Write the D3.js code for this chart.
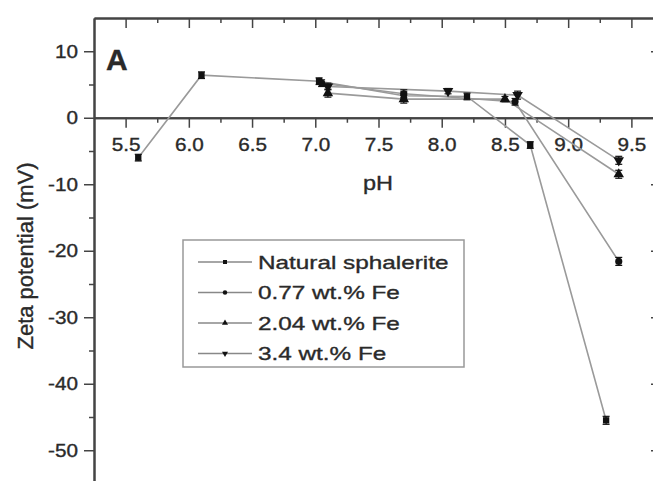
<!DOCTYPE html>
<html>
<head>
<meta charset="utf-8">
<script src="https://cdn.jsdelivr.net/npm/d3@7"></script>
<style>
    body { margin: 0; background: #fff; }
    text { font-family: "Liberation Sans", Arial, sans-serif; fill: #2a2a2a; stroke: #2a2a2a; stroke-width: 0.35px; }
</style>
</head>
<body>
<div id="chart"></div>
<script>

// series names (legend order)
const seriesNames = ["Natural sphalerite", "0.77 wt.% Fe", "2.04 wt.% Fe", "3.4 wt.% Fe"];

// pH / zeta potential (mV) / error
const naturalPH = [5.6, 6.1, 7.03, 7.7, 8.2, 8.7, 9.3];
const naturalZeta = [-6.0, 6.4, 5.5, 3.3, 3.2, -4.1, -45.5];
const naturalErr = [0.5, 0.5, 0.5, 0.6, 0.5, 0.5, 0.6];

const fe077PH = [7.05, 7.7, 8.58, 9.4];
const fe077Zeta = [5.2, 3.6, 2.4, -21.6];
const fe077Err = [0.5, 0.6, 0.5, 0.6];

const fe204PH = [7.1, 7.7, 8.5, 9.4];
const fe204Zeta = [3.7, 2.8, 2.8, -8.5];
const fe204Err = [0.6, 0.6, 0.4, 0.6];

const fe34PH = [7.1, 8.05, 8.6, 9.4];
const fe34Zeta = [4.7, 4.0, 3.4, -6.4];
const fe34Err = [0.5, 0.4, 0.6, 0.6];

// axis extents and ticks
const xDomain = [5.25, 9.75];
const yDomain = [-55, 15];
const xMajorTicks = [5.5, 6.0, 6.5, 7.0, 7.5, 8.0, 8.5, 9.0, 9.5];
const xMinorTicks = [5.75, 6.25, 6.75, 7.25, 7.75, 8.25, 8.75, 9.25];
const yMajorTicks = [-50, -40, -30, -20, -10, 0, 10];
const yMinorTicks = [-45, -35, -25, -15, -5, 5];

class ZetaVis {

    constructor(_parentElement) {
        this.parentElement = _parentElement;
        this.initVis();
    }

    initVis() {
        let vis = this;

        vis.svg = d3.select("#" + vis.parentElement).append("svg")
            .attr("width", 653)
            .attr("height", 481);

        vis.x = d3.scaleLinear().domain(xDomain).range([94, 663]);
        vis.y = d3.scaleLinear().domain(yDomain).range([483.5, 18]);

        // build series table
        vis.series = [
            { name: seriesNames[0], symbol: d3.symbolSquare, rot: 0, ph: naturalPH, zeta: naturalZeta, err: naturalErr },
            { name: seriesNames[1], symbol: d3.symbolCircle, rot: 0, ph: fe077PH, zeta: fe077Zeta, err: fe077Err },
            { name: seriesNames[2], symbol: d3.symbolTriangle, rot: 0, ph: fe204PH, zeta: fe204Zeta, err: fe204Err },
            { name: seriesNames[3], symbol: d3.symbolTriangle, rot: 180, ph: fe34PH, zeta: fe34Zeta, err: fe34Err }
        ];
        vis.series.forEach(s => {
            s.points = s.ph.map((p, i) => ({ ph: p, zeta: s.zeta[i], err: s.err[i] }));
        });

        vis.drawAxes();
        vis.updateVis();
        vis.drawLegend();
    }

    drawAxes() {
        let vis = this;
        let fmtX = d3.format(".1f");

        // minor + major tick groups for each side
        let addAxis = (axisFn, scale, pos, ticks, size, fmt, cls) => {
            let g = vis.svg.append("g")
                .attr("class", cls)
                .attr("transform", pos)
                .call(axisFn(scale).tickValues(ticks).tickSizeInner(size).tickSizeOuter(0)
                    .tickPadding(cls.includes("left") ? 4 : 10)
                    .tickFormat(fmt ? fmt : () => ""));
            g.select(".domain").attr("stroke", "#444").attr("stroke-width", 2);
            g.selectAll(".tick line").attr("stroke", "#444").attr("stroke-width", 1.5);
            g.selectAll("text")
                .attr("fill", "#333")
                .style("font-size", "18px")
                .attr("transform", "scale(1.15,1)");
            return g;
        };

        // zero line (bottom style axis with labels)
        addAxis(d3.axisBottom, vis.x, `translate(0,${vis.y(0)})`, xMinorTicks, 5, null, "x-minor");
        addAxis(d3.axisBottom, vis.x, `translate(0,${vis.y(0)})`, xMajorTicks, 10, fmtX, "x-axis");

        // top frame, ticks inward
        addAxis(d3.axisBottom, vis.x, `translate(0,${vis.y(yDomain[1])})`, xMinorTicks, 5, null, "top-minor");
        addAxis(d3.axisBottom, vis.x, `translate(0,${vis.y(yDomain[1])})`, xMajorTicks, 10, null, "top-axis");

        // left axis, ticks outward
        addAxis(d3.axisLeft, vis.y, `translate(${vis.x(xDomain[0])},0)`, yMinorTicks, 5, null, "left-minor");
        addAxis(d3.axisLeft, vis.y, `translate(${vis.x(xDomain[0])},0)`, yMajorTicks, 10, d => String(d), "left-axis");

        // right axis, ticks inward
        addAxis(d3.axisLeft, vis.y, `translate(${vis.x(xDomain[1])},0)`, yMinorTicks, 5, null, "right-minor");
        addAxis(d3.axisLeft, vis.y, `translate(${vis.x(xDomain[1])},0)`, yMajorTicks, 12, null, "right-axis");

        // axis titles
        vis.svg.append("text")
            .attr("transform", "translate(378,190) scale(1.12,1)")
            .attr("text-anchor", "middle")
            .style("font-size", "21px")
            .text("pH");

        vis.svg.append("text")
            .attr("transform", "translate(33,256) rotate(-90)")
            .attr("text-anchor", "middle")
            .style("font-size", "22px")
            .text("Zeta potential (mV)");

        // panel letter
        vis.svg.append("text")
            .attr("x", 106)
            .attr("y", 70)
            .style("font-size", "30px")
            .style("font-weight", "bold")
            .attr("fill", "#111")
            .text("A");
    }

    updateVis() {
        let vis = this;

        let line = d3.line()
            .x(d => vis.x(d.ph))
            .y(d => vis.y(d.zeta));

        vis.svg.selectAll(".series-line")
            .data(vis.series)
            .enter()
            .append("path").attr("class", "series-line")
            .attr("d", d => line(d.points))
            .attr("fill", "none")
            .attr("stroke", "#9a9a9a")
            .attr("stroke-width", 1.6);

        let groups = vis.svg.selectAll(".series-marks")
            .data(vis.series)
            .enter()
            .append("g").attr("class", "series-marks");

        // small error bars with caps
        groups.each(function(s) {
            let g = d3.select(this);
            s.points.forEach(p => {
                let cx = vis.x(p.ph), y1 = vis.y(p.zeta + p.err), y2 = vis.y(p.zeta - p.err);
                g.append("line").attr("x1", cx).attr("x2", cx).attr("y1", y1).attr("y2", y2)
                    .attr("stroke", "#111").attr("stroke-width", 1.2);
                g.append("line").attr("x1", cx - 3.5).attr("x2", cx + 3.5).attr("y1", y1).attr("y2", y1)
                    .attr("stroke", "#111").attr("stroke-width", 1.2);
                g.append("line").attr("x1", cx - 3.5).attr("x2", cx + 3.5).attr("y1", y2).attr("y2", y2)
                    .attr("stroke", "#111").attr("stroke-width", 1.2);
            });
            g.selectAll("path")
                .data(s.points)
                .enter()
                .append("path")
                .attr("d", d3.symbol().type(s.symbol).size(s.symbol === d3.symbolTriangle ? 48 : 40))
                .attr("transform", d => `translate(${vis.x(d.ph)},${vis.y(d.zeta)}) rotate(${s.rot})`)
                .attr("fill", "#111");
        });
    }

    drawLegend() {
        let vis = this;

        let legend = vis.svg.append("g").attr("class", "legend");

        legend.append("rect")
            .attr("x", 183).attr("y", 240)
            .attr("width", 281).attr("height", 127)
            .attr("fill", "#fff")
            .attr("stroke", "#999")
            .attr("stroke-width", 1.5);

        let rows = legend.selectAll(".legend-row")
            .data(vis.series)
            .enter()
            .append("g").attr("class", "legend-row")
            .attr("transform", (d, i) => `translate(0,${262 + i * 30.5})`);

        rows.append("line")
            .attr("x1", 198).attr("x2", 252)
            .attr("stroke", "#888").attr("stroke-width", 1.5);

        rows.append("path")
            .attr("d", d => d3.symbol().type(d.symbol).size(16)())
            .attr("transform", d => `translate(225,0) rotate(${d.rot})`)
            .attr("fill", "#111");

        rows.append("text")
            .attr("transform", "translate(258,0) scale(1.28,1)")
            .attr("dy", "0.35em")
            .style("font-size", "19px")
            .text(d => d.name);
    }
}

new ZetaVis("chart");
</script>
</body>
</html>
